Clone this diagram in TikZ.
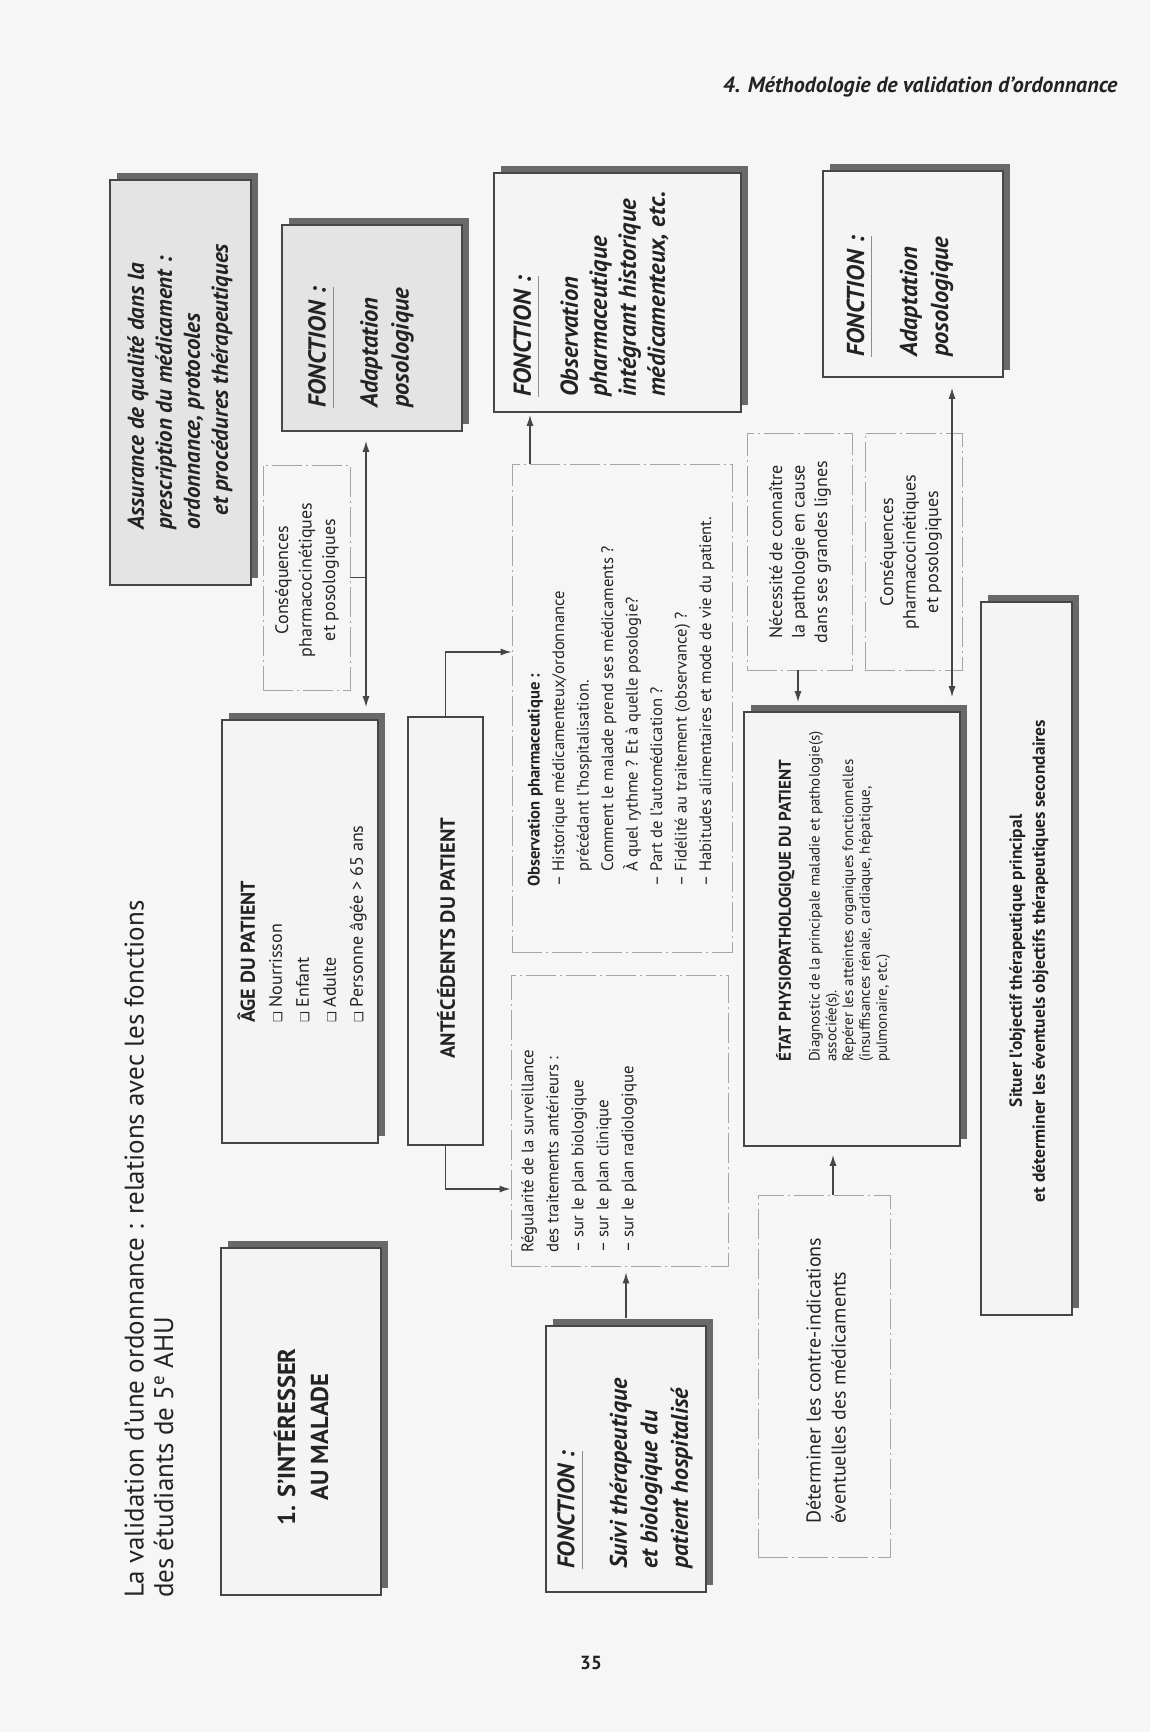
\documentclass[tikz,border=0pt]{standalone}
\usepackage{fontspec}
\usepackage{graphicx}
\setmainfont{PT Sans}
\newfontfamily\dejavu{DejaVu Sans}
\usetikzlibrary{arrows.meta,shadows,calc}
\definecolor{pagebg}{RGB}{246,246,246}
\definecolor{edge}{RGB}{70,70,70}
\definecolor{shade}{RGB}{105,105,105}
\definecolor{texture}{RGB}{228,228,228}
\definecolor{boxbg}{RGB}{244,244,244}
\definecolor{thin}{RGB}{165,165,165}
\definecolor{ink}{RGB}{35,35,35}
\definecolor{rulec}{RGB}{140,140,140}
\newcommand{\fonc}{\setbox0\hbox{FONCTION :}\rlap{\textcolor{rulec}{\rule[-8pt]{\wd0}{0.9pt}}}\box0}
\newcommand{\cb}{{\dejavu\fontsize{12}{12}\selectfont ❑}\ }
\tikzset{
  pbox/.style={draw=edge, line width=1.6pt, fill=boxbg, inner sep=0pt,
    drop shadow={shadow xshift=7pt, shadow yshift=7pt, fill=shade, opacity=1}},
  tbox/.style={pbox, fill=texture},
  plainbox/.style={draw=edge, line width=1.6pt, fill=boxbg, inner sep=0pt},
  dbox/.style={draw=thin, line width=0.8pt, dash pattern=on 30pt off 4pt on 2pt off 4pt, inner sep=0pt},
  conn/.style={draw=edge, line width=1.4pt},
  arr/.style={conn, -{Latex[length=11pt,width=7pt]}},
  dbl/.style={conn, {Latex[length=11pt,width=7pt]}-{Latex[length=11pt,width=7pt]}},
  vtxt/.style={rotate=90, text=ink, inner sep=0pt},
  fonct/.style={vtxt, anchor=west, align=left, font=\fontsize{24.5}{31}\selectfont\bfseries\itshape}
}
\begin{document}
\begin{tikzpicture}[x=1pt, y=-1pt]
\path[fill=pagebg] (0,0) rectangle (1150,1732);
\useasboundingbox (0,0) rectangle (1150,1732);

% header and page number
\node[anchor=east, text=ink, font=\fontsize{22}{24}\selectfont\bfseries\itshape] (hdr) at (1121,87) {4. Méthodologie de validation d'ordonnance};
\node[text=ink, font=\fontsize{19}{21}\selectfont\bfseries] (pg) at (591,1663) {35};

% title
\node[vtxt, anchor=west, align=left, font=\fontsize{27}{29.5}\selectfont] (title) at (149,1598) {La validation d'une ordonnance : relations avec les fonctions\\des étudiants de 5\textsuperscript{e} AHU};

% boxes
\node[pbox, minimum width=160pt, minimum height=347pt] (b1) at (301,1421.5) {};
\node[tbox, minimum width=141pt, minimum height=405pt] (assur) at (180.5,382.5) {};
\node[tbox, minimum width=180pt, minimum height=206pt] (fadl) at (372,328) {};
\node[pbox, minimum width=247pt, minimum height=239pt] (fobs) at (617.5,292.5) {};
\node[pbox, minimum width=180pt, minimum height=206pt] (fadr) at (913,274) {};
\node[dbox, minimum width=87pt, minimum height=225pt] (csql) at (306.5,577.5) {};
\node[pbox, minimum width=156pt, minimum height=423pt] (age) at (300,931.5) {};
\node[plainbox, minimum width=75pt, minimum height=428pt] (ant) at (445.5,931) {};
\node[dbox, minimum width=220pt, minimum height=488pt] (obs) at (622,708) {};
\node[dbox, minimum width=217pt, minimum height=291pt] (reg) at (619.5,1120.5) {};
\node[pbox, minimum width=160pt, minimum height=266pt] (suivi) at (626,1459) {};
\node[dbox, minimum width=132pt, minimum height=362pt] (det) at (824,1376) {};
\node[pbox, minimum width=216pt, minimum height=434pt] (etat) at (852,929) {};
\node[dbox, minimum width=105pt, minimum height=237pt] (nec) at (799.5,551.5) {};
\node[dbox, minimum width=97pt, minimum height=237pt] (csqr) at (913.5,551.5) {};
\node[pbox, minimum width=91pt, minimum height=713pt] (situer) at (1026.5,958.5) {};

% texts
\node[vtxt, align=center, font=\fontsize{24.5}{33}\selectfont\bfseries] (t-b1) at (301,1437) {1. S'INTÉRESSER\\AU MALADE};
\node[vtxt, anchor=west, align=left, font=\fontsize{23}{28}\selectfont\bfseries\itshape] (t-assur) at (180,530) {Assurance de qualité dans la\\prescription du médicament :\\ordonnance, protocoles\\\hspace*{14pt}et procédures thérapeutiques};
\node[fonct] (t-fadl) at (361,408) {\fonc\\[21pt]Adaptation\\posologique};
\node[fonct, font=\fontsize{24.5}{29}\selectfont\bfseries\itshape] (t-fobs) at (591,397) {\fonc\\[18pt]Observation\\pharmaceutique\\intégrant historique\\médicamenteux, etc.};
\node[fonct] (t-fadr) at (900,357) {\fonc\\[22pt]Adaptation\\posologique};
\node[fonct, font=\fontsize{24}{30.5}\selectfont\bfseries\itshape] (t-suivi) at (625,1569) {\fonc\\[22pt]Suivi thérapeutique\\et biologique du\\patient hospitalisé};
\node[vtxt, align=center, font=\fontsize{18}{23.5}\selectfont] (t-csql) at (307,580) {Conséquences\\pharmacocinétiques\\et posologiques};
\node[vtxt, anchor=west, align=left, font=\fontsize{18}{27}\selectfont] (t-age) at (302,1023) {{\fontsize{20}{27}\selectfont\bfseries ÂGE DU PATIENT}\\\cb Nourrisson\\\cb Enfant\\\cb Adulte\\\cb Personne âgée > 65 ans};
\node[vtxt, font=\fontsize{20.5}{22}\selectfont\bfseries] (t-ant) at (446,938) {ANTÉCÉDENTS DU PATIENT};
\node[vtxt, anchor=west, align=left, font=\fontsize{16.6}{24.5}\selectfont] (t-obs) at (621,887) {\textbf{Observation pharmaceutique :}\\– Historique médicamenteux/ordonnance\\\phantom{– }précédant l'hospitalisation.\\\phantom{– }Comment le malade prend ses médicaments ?\\\phantom{– }À quel rythme ? Et à quelle posologie?\\– Part de l'automédication ?\\– Fidélité au traitement (observance) ?\\– Habitudes alimentaires et mode de vie du patient.};
\node[vtxt, anchor=west, align=left, font=\fontsize{16.8}{25}\selectfont] (t-reg) at (579,1253) {Régularité de la surveillance\\des traitements antérieurs :\\– sur le plan biologique\\– sur le plan clinique\\– sur le plan radiologique};
\node[vtxt, anchor=west, align=left, font=\fontsize{15}{16.8}\selectfont] (t-etat) at (833,1062) {{\fontsize{17}{18}\selectfont\bfseries ÉTAT PHYSIOPATHOLOGIQUE DU PATIENT}\\[12pt]Diagnostic de la principale maladie et pathologie(s)\\associée(s).\\Repérer les atteintes organiques fonctionnelles\\(insuffisances rénale, cardiaque, hépatique,\\pulmonaire, etc.)};
\node[vtxt, align=center, font=\fontsize{18}{22.5}\selectfont] (t-nec) at (800,552) {Nécessité de connaître\\la pathologie en cause\\dans ses grandes lignes};
\node[vtxt, align=center, font=\fontsize{18}{22.5}\selectfont] (t-csqr) at (911,552) {Conséquences\\pharmacocinétiques\\et posologiques};
\node[vtxt, anchor=west, align=left, font=\fontsize{20}{25}\selectfont] (t-det) at (826,1524) {Déterminer les contre-indications\\éventuelles des médicaments};
\node[vtxt, align=center, font=\fontsize{17.5}{23}\selectfont\bfseries] (t-situer) at (1029,961) {Situer l'objectif thérapeutique principal\\et déterminer les éventuels objectifs thérapeutiques secondaires};

% connectors
\coordinate (xl) at (366,0);
\coordinate (ya) at (0,652);
\coordinate (yb) at (0,1189);
\coordinate (xo) at (530,0);
\coordinate (xs) at (626,0);
\coordinate (xd) at (833,0);
\coordinate (xn) at (798,0);
\coordinate (xr) at (952,0);
\draw[dbl, shorten <=9pt, shorten >=12pt] (fadl.south -| xl) -- (age.north -| xl);
\draw[conn] (csql.east) -- (csql.east -| xl);
\draw[arr] (ant.north) |- (obs.west |- ya);
\draw[arr] (ant.south) |- (reg.west |- yb);
\draw[arr, shorten >=2pt] (obs.north -| xo) -- (fobs.south -| xo);
\draw[arr, shorten <=7pt, shorten >=6pt] (suivi.north -| xs) -- (reg.south -| xs);
\draw[arr, shorten >=8pt] (det.north -| xd) -- (etat.south -| xd);
\draw[arr, shorten >=9pt] (nec.south -| xn) -- (etat.north -| xn);
\draw[dbl, shorten <=10pt, shorten >=14pt] (fadr.south -| xr) -- (etat.north -| xr);
\end{tikzpicture}
\end{document}
